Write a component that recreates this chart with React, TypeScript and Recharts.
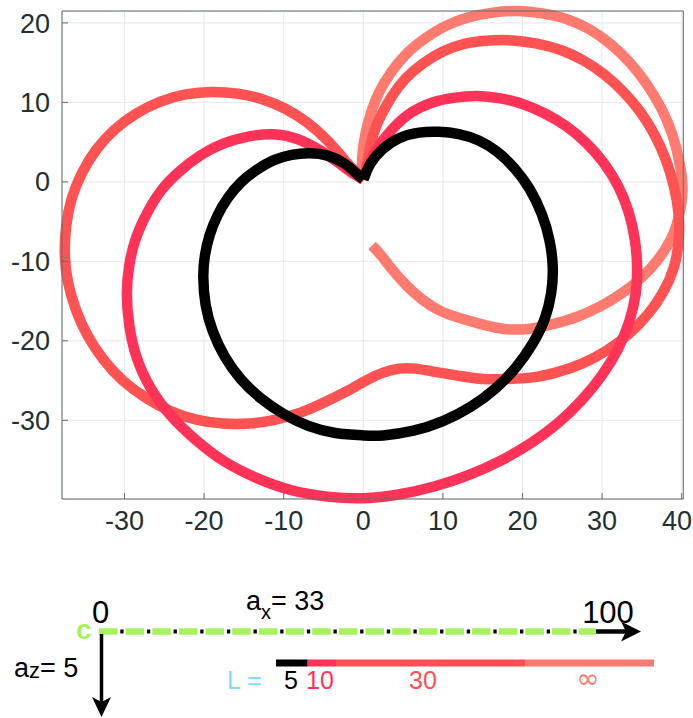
import { CartesianGrid, Line, LineChart, XAxis, YAxis } from 'recharts';

// axis ticks
const xTicks = [-30, -20, -10, 0, 10, 20, 30, 40];
const yTicks = [-30, -20, -10, 0, 10, 20];

// traced paths (x, y), each starting at the cusp near the origin
const pathL5 = [
  [0, 0.3], [0.9, 2.3], [2.4, 4.1], [4.5, 5.5], [7, 6.2], [9.5, 6.3], [12, 6], [14.5, 5.2],
  [16.8, 3.8], [19, 1.7], [20.9, -0.9], [22.4, -4], [23.4, -7.4], [23.8, -10.8], [23.6, -14],
  [22.8, -17.2], [21.3, -20.3], [19.2, -23.3], [16.6, -26], [13.5, -28.3], [10, -30.1],
  [6.3, -31.3], [2.5, -31.9], [0, -31.9], [-3.5, -31.6], [-6.9, -30.7], [-10, -29.2],
  [-12.9, -27.2], [-15.4, -24.8], [-17.4, -22], [-18.9, -18.8], [-19.8, -15.5], [-20.1, -12],
  [-19.9, -9.3], [-19.3, -6.7], [-18.3, -4.2], [-17, -2], [-15.3, 0], [-13.4, 1.5],
  [-11.3, 2.7], [-9, 3.4], [-6.7, 3.6], [-4.5, 3.3], [-2.5, 2.4], [-1, 1.2], [0, 0.3],
];

const pathL10 = [
  [0, 0.3], [0.7, 2.3], [2, 4.6], [3.8, 6.8], [6, 8.7], [8.7, 10], [11.5, 10.6], [14.3, 10.8],
  [17.2, 10.5], [20, 9.8], [22.8, 8.6], [25.5, 7], [28, 4.9], [30.2, 2.4], [32, -0.5],
  [33.3, -3.7], [34.1, -7.2], [34.4, -10.8], [34.2, -14.2], [33.4, -17.6], [32, -21],
  [30, -24.3], [27.5, -27.4], [24.5, -30.3], [21, -32.9], [17.2, -35.1], [13.2, -36.9],
  [9, -38.3], [4.6, -39.3], [0, -39.8], [-4.5, -39.6], [-9, -38.8], [-13.3, -37.3],
  [-17.4, -35.2], [-21, -32.5], [-24.2, -29.4], [-26.8, -25.8], [-28.5, -22], [-29.4, -18],
  [-29.7, -14], [-29.4, -10.5], [-28.6, -7.2], [-27.2, -4], [-25.4, -1.1], [-23.1, 1.3],
  [-20.5, 3.3], [-17.6, 4.8], [-14.5, 5.7], [-11.3, 6], [-8.3, 5.4], [-5.5, 4], [-3, 2.3],
  [-1.2, 1], [0, 0.3],
];

const pathL30 = [
  [0.2, 0.5], [0.6, 3], [1.3, 6.1], [2.3, 8.5], [3.6, 10.8], [5.3, 13], [7.5, 14.9],
  [10, 16.4], [12.8, 17.4], [15.8, 17.8], [18.8, 17.8], [21.8, 17.4], [24.8, 16.6],
  [27.6, 15.3], [30.3, 13.5], [32.7, 11.3], [34.8, 8.8], [36.6, 5.9], [38, 2.8], [39, -0.5],
  [39.6, -4], [39.6, -7.5], [39, -10.8], [37.7, -13.8], [35.8, -16.6], [33.4, -19.1],
  [30.6, -21.2], [27.6, -22.8], [24.5, -23.9], [21.3, -24.6], [18.2, -24.8], [15, -24.8],
  [12, -24.4], [9, -23.9], [6.5, -23.5], [4.5, -23.5], [2.5, -24], [0.5, -24.9], [-2, -26.3],
  [-4.8, -27.7], [-7.8, -29], [-11, -29.9], [-14.3, -30.4], [-17.6, -30.4], [-21, -29.9],
  [-24.3, -28.8], [-27.4, -27.1], [-30.2, -25], [-32.6, -22.4], [-34.6, -19.4],
  [-36.1, -16.1], [-37.1, -12.6], [-37.5, -9], [-37.3, -5.4], [-36.6, -2], [-35.3, 1.2],
  [-33.5, 4.1], [-31.2, 6.6], [-28.5, 8.6], [-25.5, 10.1], [-22.3, 11], [-19, 11.3],
  [-15.8, 11.1], [-12.7, 10.4], [-9.8, 9.2], [-7.1, 7.5], [-4.8, 5.5], [-2.8, 3.3],
  [-1.2, 1.5], [0.2, 0.5],
];

const pathInf = [
  [-0.2, 1], [-0.1, 3.5], [0.3, 6.2], [1, 8.8], [2, 11.3], [3.5, 13.8], [5.4, 16.1],
  [7.7, 18], [10.3, 19.6], [13.2, 20.7], [16.3, 21.3], [19.4, 21.5], [22.5, 21.2],
  [25.5, 20.5], [28.4, 19.2], [31.1, 17.3], [33.5, 15], [35.6, 12.3], [37.4, 9.3], [38.8, 6],
  [39.7, 2.5], [40.1, -1], [39.6, -4.5], [38.6, -7.3], [37, -9.8], [35, -12], [32.5, -14],
  [29.7, -15.7], [26.8, -17], [23.8, -17.9], [20.7, -18.5], [17.7, -18.5], [14.8, -17.9],
  [12, -17.1], [9.6, -16.2], [7.4, -14.8], [5.4, -13], [3.6, -11], [2.2, -9.2], [1.1, -8],
];

// legend strip labels (L values)
const legendLabels = ['5', '10', '30', '∞'];

const toPts = (a: number[][]) => a.map(([x, y]) => ({ x, y }));

const series = [
  { name: 'inf', data: toPts(pathInf), color: '#ff7b70' },
  { name: 'L30', data: toPts(pathL30), color: '#ff5252' },
  { name: 'L10', data: toPts(pathL10), color: '#ff3358' },
  { name: 'L5', data: toPts(pathL5), color: '#000000' },
];

const axisColor = '#5f6d6d';
const labelColor = '#22302f';
const xDomain: [number, number] = [-37.85, 40.2];
const yDomain: [number, number] = [-39.9, 21.5];

const XTick = ({ x, y, payload }: any) => (
  <text x={Math.min(x, 677)} y={y} dy="0.71em" textAnchor="middle" fill={labelColor} fontSize={27}>
    {payload.value}
  </text>
);

const YTick = ({ x, y, payload }: any) => (
  <text x={x} y={y} dy="0.355em" textAnchor="end" fill={labelColor} fontSize={27}>
    {payload.value}
  </text>
);

const Annotation = () => (
  <svg width={693} height={718} style={{ position: 'absolute', left: 0, top: 0, pointerEvents: 'none' }}>
    {/* green dashed track with black dots */}
    <line x1={99} y1={631.5} x2={596} y2={631.5} stroke="#a6f25c" strokeWidth={6.5} strokeDasharray="18.5 8.15" />
    <line x1={99} y1={631.5} x2={596} y2={631.5} stroke="#000" strokeWidth={4} strokeDasharray="3.3 23.35" strokeDashoffset={-21.3} />
    <line x1={596} y1={631.5} x2={627} y2={631.5} stroke="#000" strokeWidth={4.5} />
    <polygon points="641,631.5 621,621.5 626,631.5 621,641.5" fill="#000" />
    <line x1={101.5} y1={634} x2={101.5} y2={703} stroke="#000" strokeWidth={3.5} />
    <polygon points="101.5,717 92,697 101.5,702 111,697" fill="#000" />

    <text x={76} y={639} fontSize={28} fontWeight="bold" fill="#a6f25c">c</text>
    <text x={100.5} y={623} fontSize={31} textAnchor="middle" fill="#000">0</text>
    <text x={608} y={623} fontSize={31} textAnchor="middle" fill="#000">100</text>
    <text x={246} y={610} fontSize={27} fill="#000">
      a<tspan dy={9} fontSize={20}>x</tspan>
      <tspan dy={-9}>= 33</tspan>
    </text>
    <text x={14} y={677} fontSize={27} fill="#000">
      a<tspan dy={1} fontSize={22}>z</tspan>
      <tspan dy={-1}>= 5</tspan>
    </text>

    {/* colour strip */}
    <rect x={276} y={659.5} width={31.7} height={7} fill="#000" />
    <rect x={307.7} y={659.5} width={28.3} height={7} fill="#ff3358" />
    <rect x={336} y={659.5} width={102} height={7} fill="#ff4f57" />
    <rect x={438} y={659.5} width={87} height={7} fill="#ff4b53" />
    <rect x={525} y={659.5} width={129} height={7} fill="#ff7a72" />

    <text x={227} y={689} fontSize={25} fill="#82dcff">L =</text>
    <text x={284} y={689} fontSize={25} fill="#000">{legendLabels[0]}</text>
    <text x={306} y={689} fontSize={25} fill="#ff3358">{legendLabels[1]}</text>
    <text x={409} y={689} fontSize={25} fill="#ff4f57">{legendLabels[2]}</text>
    <text x={588} y={688} fontSize={28} textAnchor="middle" fill="#ff7a72" fontFamily="DejaVu Sans">{legendLabels[3]}</text>
  </svg>
);

export default function App() {
  return (
    <div
      style={{
        position: 'absolute',
        left: 0,
        top: 0,
        width: 693,
        height: 718,
        background: '#fff',
        fontFamily: '"Liberation Sans", Arial, sans-serif',
      }}
    >
      <LineChart width={693} height={540} margin={{ top: 10, right: 8.7, bottom: 0, left: 0 }}>
        <CartesianGrid stroke="#e4e9e9" />
        <XAxis
          type="number"
          dataKey="x"
          domain={xDomain}
          ticks={xTicks}
          interval={0}
          height={41}
          tickSize={-6}
          tickMargin={18}
          stroke={axisColor}
          tick={<XTick />}
        />
        <YAxis
          type="number"
          dataKey="y"
          domain={yDomain}
          ticks={yTicks}
          interval={0}
          width={62}
          tickSize={-6}
          tickMargin={18}
          stroke={axisColor}
          tick={<YTick />}
        />
        <XAxis
          xAxisId="top"
          orientation="top"
          type="number"
          domain={xDomain}
          ticks={xTicks}
          interval={0}
          height={1}
          tickSize={-6}
          tick={false}
          stroke={axisColor}
          allowDataOverflow
        />
        <YAxis
          yAxisId="right"
          orientation="right"
          type="number"
          domain={yDomain}
          ticks={yTicks}
          interval={0}
          width={1}
          tickSize={-6}
          tick={false}
          stroke={axisColor}
          allowDataOverflow
        />
        {series.map((s) => (
          <Line
            key={s.name}
            data={s.data}
            dataKey="y"
            type="natural"
            stroke={s.color}
            strokeWidth={10.5}
            dot={false}
            activeDot={false}
            isAnimationActive={false}
          />
        ))}
      </LineChart>
      <Annotation />
    </div>
  );
}
